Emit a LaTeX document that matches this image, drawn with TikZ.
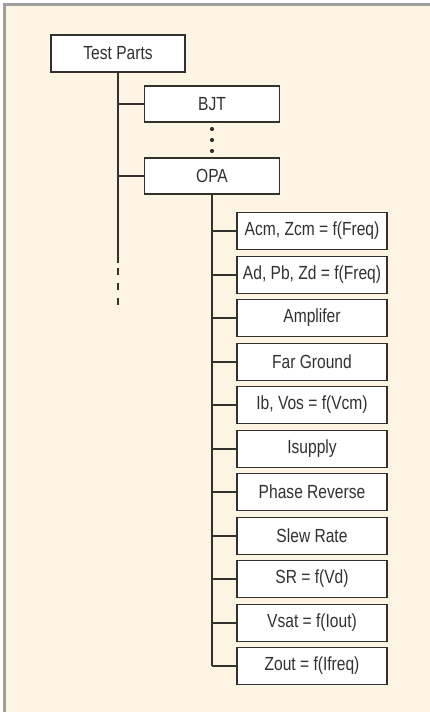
\documentclass[tikz,border=0pt]{standalone}
\usepackage{fontspec}
\setmainfont{Liberation Sans}[FakeStretch=0.82]
\definecolor{cream}{HTML}{FDF4E3}
\definecolor{framegray}{HTML}{9E9E9E}
\definecolor{ink}{HTML}{333030}
\begin{document}
\begin{tikzpicture}[x=1pt,y=-1pt,
  box/.style={draw=ink,line width=1.8pt,fill=white,inner sep=0pt,
    minimum height=37pt,text=ink,font=\fontsize{19}{22}\selectfont},
  topbox/.style={box,minimum width=134pt},
  midbox/.style={box,minimum width=135pt,minimum height=36pt},
  leafbox/.style={box,minimum width=150pt},
  link/.style={draw=ink,line width=2pt}]
\useasboundingbox (0,0) rectangle (430,712);
\fill[white] (0,0) rectangle (430,712);
\fill[cream] (3,3) rectangle (430,712);
\draw[framegray,line width=3pt] (4.5,712) -- (4.5,4.5) -- (430,4.5);
% nodes
\node[topbox] (tp) at (118,53.5) {Test Parts};
\node[midbox] (bjt) at (212,104) {BJT};
\node[midbox] (opa) at (212,176) {OPA};
\foreach \i/\y/\t in {1/231/{Acm, Zcm = f(Freq)},2/275/{Ad, Pb, Zd = f(Freq)},3/318/{Amplifer},4/362/{Far Ground},5/405/{Ib, Vos = f(Vcm)},6/449/{Isupply},7/492/{Phase Reverse},8/536/{Slew Rate},9/579/{SR = f(Vd)},10/623/{Vsat = f(Iout)},11/666/{Zout = f(Ifreq)}}
  \node[leafbox] (c\i) at (312,\y) {\t};
% dots
\foreach \y/\n in {129/d1,140/d2,151/d3}
  \fill[ink] (212,\y) circle (2.1pt) coordinate (\n);
% main trunk
\coordinate (tend) at (118,263);
\coordinate (dstart) at (118,268);
\coordinate (dend) at (118,305);
\draw[link] (tp.south) -- (tend);
\draw[link,dash pattern=on 7pt off 8pt] (dstart) -- (dend);
\draw[link] (bjt.west) -- (bjt.west -| tp.south);
\draw[link] (opa.west) -- (opa.west -| tp.south);
% OPA trunk
\draw[link] (opa.south) -- (opa.south |- c11.west);
\foreach \i in {1,...,11}
  \draw[link] (c\i.west) -- (c\i.west -| opa.south);
\end{tikzpicture}
\end{document}
